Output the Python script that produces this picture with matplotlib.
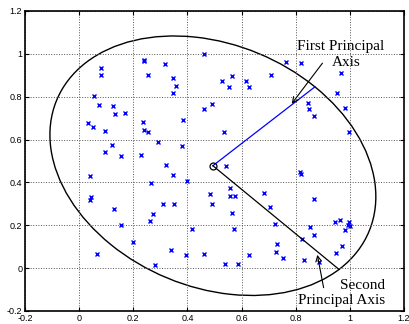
import numpy as np
import matplotlib
matplotlib.use("Agg")
import matplotlib.pyplot as plt
from matplotlib.patches import Ellipse

plt.rcParams['font.family'] = 'Liberation Sans'
plt.rcParams['axes.unicode_minus'] = False

# data points
x = [0.239, 0.240, 0.316, 0.081, 0.081, 0.253, 0.346, 0.356, 0.346, 0.054,
     0.075, 0.125, 0.132, 0.168, 0.032, 0.051, 0.237, 0.238, 0.254, 0.382,
     0.095, 0.292, 0.380, 0.123, 0.095, 0.155, 0.229, 0.461, 0.461, 0.765,
     0.821, 0.969, 0.710, 0.528, 0.563, 0.552, 0.615, 0.627, 0.953, 0.847,
     0.849, 0.869, 0.981, 0.489, 0.534, 0.996, 0.321, 0.041, 0.348, 0.264,
     0.398, 0.045, 0.040, 0.128, 0.311, 0.349, 0.271, 0.261, 0.153, 0.416,
     0.199, 0.067, 0.338, 0.394, 0.281, 0.463, 0.541, 0.558, 0.483, 0.556,
     0.576, 0.492, 0.566, 0.571, 0.539, 0.586, 0.816, 0.819, 0.683, 0.705,
     0.869, 0.723, 0.852, 0.944, 0.963, 0.996, 0.993, 0.999, 0.981, 0.867,
     0.823, 0.732, 0.971, 0.728, 0.950, 0.627, 0.753, 0.830, 0.886]
y = [0.965, 0.972, 0.952, 0.933, 0.903, 0.903, 0.888, 0.850, 0.815, 0.802,
     0.760, 0.758, 0.720, 0.723, 0.679, 0.660, 0.682, 0.645, 0.634, 0.692,
     0.642, 0.587, 0.569, 0.575, 0.542, 0.522, 0.527, 0.999, 0.742, 0.963,
     0.955, 0.911, 0.903, 0.874, 0.897, 0.847, 0.874, 0.847, 0.815, 0.771,
     0.742, 0.710, 0.749, 0.766, 0.634, 0.634, 0.483, 0.431, 0.436, 0.397,
     0.408, 0.333, 0.319, 0.277, 0.300, 0.299, 0.254, 0.220, 0.199, 0.181,
     0.120, 0.064, 0.086, 0.061, 0.015, 0.068, 0.477, 0.375, 0.347, 0.338,
     0.338, 0.300, 0.255, 0.182, 0.020, 0.017, 0.449, 0.441, 0.349, 0.285,
     0.324, 0.207, 0.193, 0.216, 0.224, 0.216, 0.202, 0.198, 0.178, 0.153,
     0.134, 0.114, 0.103, 0.076, 0.070, 0.061, 0.047, 0.037, 0.028]

# mean and principal axis end points
center = (0.494, 0.478)
axis1_end = (0.871, 0.846)
axis2_end = (0.960, -0.006)

ticks = [-0.2, 0, 0.2, 0.4, 0.6, 0.8, 1, 1.2]
tick_labels = ['-0.2', '0', '0.2', '0.4', '0.6', '0.8', '1', '1.2']

fig = plt.figure(figsize=(4.09, 3.24), dpi=100)
ax = fig.add_axes([25/409, 13/324, 379/409, 300/324])

ax.plot(x, y, 'x', color='blue', markersize=3.5, markeredgewidth=1.0)

# ellipse from the two axes
a = np.hypot(axis1_end[0]-center[0], axis1_end[1]-center[1])
b = np.hypot(axis2_end[0]-center[0], axis2_end[1]-center[1])
ang = np.degrees(np.arctan2(axis1_end[1]-center[1], axis1_end[0]-center[0]))
ax.add_patch(Ellipse(center, 2*a, 2*b, angle=ang, fill=False,
                     edgecolor='black', linewidth=1.0))

ax.plot([center[0], axis1_end[0]], [center[1], axis1_end[1]], color='blue', lw=0.9)
ax.plot([center[0], axis2_end[0]], [center[1], axis2_end[1]], color='black', lw=0.9)
ax.plot(center[0], center[1], 'o', mfc='none', mec='black', markersize=5, mew=0.9)

serif = 'Liberation Serif'
ax.annotate('', xy=(0.779, 0.757), xytext=(0.905, 0.967),
            arrowprops=dict(arrowstyle='->', color='black', lw=0.8))
ax.text(0.966, 1.034, 'First Principal', family=serif, fontsize=11,
        ha='center', va='center')
ax.text(0.988, 0.959, 'Axis', family=serif, fontsize=11,
        ha='center', va='center')

ax.annotate('', xy=(0.878, 0.075), xytext=(0.905, -0.104),
            arrowprops=dict(arrowstyle='->', color='black', lw=0.8))
ax.text(1.13, -0.081, 'Second', family=serif, fontsize=11,
        ha='right', va='center')
ax.text(1.13, -0.151, 'Principal Axis', family=serif, fontsize=11,
        ha='right', va='center')

ax.set_xlim(-0.2, 1.2)
ax.set_ylim(-0.2, 1.2)
ax.set_xticks(ticks)
ax.set_xticklabels(tick_labels)
ax.set_yticks(ticks)
ax.set_yticklabels(tick_labels)
ax.tick_params(direction='in', length=3, width=0.8, labelsize=6.5,
               top=True, right=True, pad=2)
ax.grid(True, linestyle=':', color='#555555', linewidth=0.7)
for s in ax.spines.values():
    s.set_linewidth(1.2)

fig.savefig('out.png', dpi=100)
